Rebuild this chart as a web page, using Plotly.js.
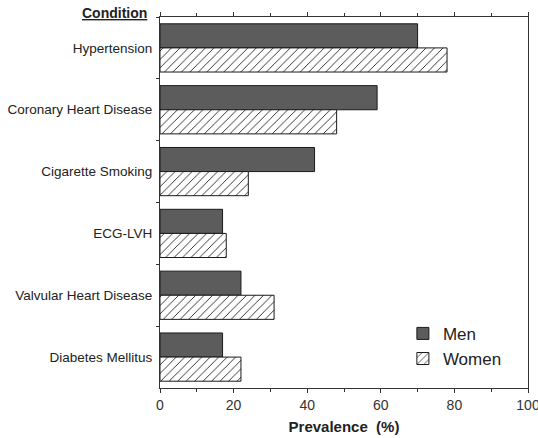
<!DOCTYPE html>
<html><head><meta charset="utf-8">
<script src="https://cdn.plot.ly/plotly-3.0.1.min.js"></script>
<style>html,body{margin:0;padding:0;background:#fff}#c{width:538px;height:438px}</style>
</head><body><div id="c"></div>
<script>
const categories = ["Hypertension","Coronary Heart Disease","Cigarette Smoking","ECG-LVH","Valvular Heart Disease","Diabetes Mellitus"];
const men   = [70, 59, 42, 17, 22, 17];
const women = [78, 48, 24, 18, 31, 22];
const xTicks = [0, 20, 40, 60, 80, 100];

const font = "Liberation Sans, Arial, sans-serif";
const traces = [
  {type:"bar", orientation:"h", name:"Men", y:categories, x:men,
   marker:{color:"#5c5c5c", line:{color:"#1a1a1a", width:1}}},
  {type:"bar", orientation:"h", name:"Women", y:categories, x:women,
   marker:{color:"#ffffff", line:{color:"#1a1a1a", width:1},
     pattern:{shape:"/", fgcolor:"#222", bgcolor:"#fff", size:6, solidity:0.15}}}
];
const layout = {
  width:538, height:438,
  margin:{l:160, r:10, t:17, b:50},
  paper_bgcolor:"#fff", plot_bgcolor:"#fff",
  barmode:"group", bargap:0.22, bargroupgap:0,
  font:{family:font, color:"#222"},
  showlegend:true,
  legend:{x:0.66, xanchor:"left", y:0.03, yanchor:"bottom", bgcolor:"rgba(0,0,0,0)",
    font:{size:17, family:font, color:"#222"}, tracegroupgap:2},
  xaxis:{range:[0,100], tickvals:xTicks, ticktext:xTicks.map(String),
    ticks:"outside", ticklen:4, tickcolor:"#333", ticklabeloverflow:"allow",
    minor:{dtick:10, ticks:"outside", ticklen:3, tickcolor:"#333"},
    showline:true, linecolor:"#333", linewidth:1, mirror:"ticks",
    showgrid:false, zeroline:false,
    tickfont:{size:14, family:font, color:"#333"},
    title:{text:"<b>Prevalence  (%)</b>", font:{size:15, family:font, color:"#222"}, standoff:9}},
  yaxis:{autorange:"reversed", type:"category",
    ticks:"outside", ticklen:3, tickson:"boundaries", tickcolor:"#333",
    ticklabelstandoff:4,
    showline:true, linecolor:"#333", linewidth:1, mirror:true,
    showgrid:false, zeroline:false,
    tickfont:{size:13.5, family:font, color:"#222"}},
  annotations:[{text:"<b><u>Condition</u></b>", xref:"paper", yref:"paper",
    x:-0.03, y:1.01, xanchor:"right", yanchor:"middle", showarrow:false,
    font:{size:14, family:font, color:"#222"}}]
};
Plotly.newPlot("c", traces, layout, {staticPlot:true, displayModeBar:false});
</script></body></html>
